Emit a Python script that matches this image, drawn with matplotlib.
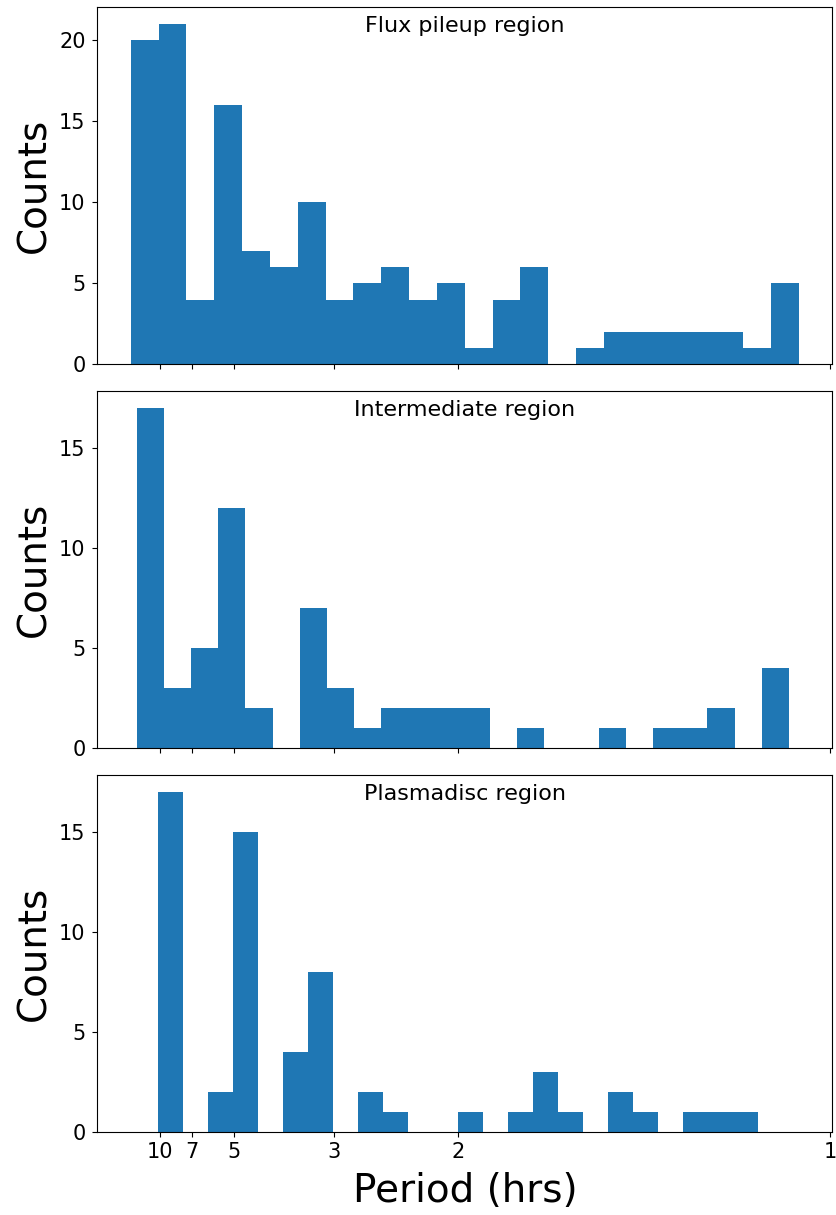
import numpy as np
import matplotlib
matplotlib.use("Agg")
import matplotlib.pyplot as plt
from matplotlib.ticker import MultipleLocator

# bin counts (24 bins per region, x is frequency = 1/period)
flux_pileup_counts = [20, 21, 4, 16, 7, 6, 10, 4, 5, 6, 4, 5,
                      1, 4, 6, 0, 1, 2, 2, 2, 2, 2, 1, 5]
intermediate_counts = [17, 3, 5, 12, 2, 0, 7, 3, 1, 2, 2, 2,
                       2, 0, 1, 0, 0, 1, 0, 1, 1, 2, 0, 4]
plasmadisc_counts = [17, 0, 2, 15, 0, 4, 8, 0, 2, 1, 0, 0,
                     1, 0, 1, 3, 1, 0, 2, 1, 0, 1, 1, 1]

# frequency range (1/hrs) spanned by the bins of each region
flux_pileup_range = (0.0611, 0.9577)
intermediate_range = (0.0691, 0.9443)
plasmadisc_range = (0.0973, 0.9027)

region_names = ["Flux pileup region", "Intermediate region", "Plasmadisc region"]
period_ticks = [10, 7, 5, 3, 2, 1]
n_bins = 24

all_counts = [flux_pileup_counts, intermediate_counts, plasmadisc_counts]
all_ranges = [flux_pileup_range, intermediate_range, plasmadisc_range]

fig, axes = plt.subplots(3, 1, sharex=True, figsize=(8.36, 12.15), dpi=100)

left, width, height = 0.1164, 0.8792, 0.2938
bottoms = [0.7002, 0.3841, 0.0681]

for ax, counts, rng, name, b in zip(axes, all_counts, all_ranges, region_names, bottoms):
    ax.set_position([left, b, width, height])
    edges = np.linspace(rng[0], rng[1], n_bins + 1)
    ax.hist(edges[:-1], bins=edges, weights=counts, color="#1f77b4")
    ax.text(0.5, 0.932, name, transform=ax.transAxes, ha="center",
            va="baseline", fontsize=16)
    ax.set_ylabel("Counts", fontsize=28)
    ax.yaxis.set_major_locator(MultipleLocator(5))
    ax.tick_params(labelsize=15)
    ax.tick_params(axis="y", pad=5)

freqs = 1.0 / np.array(period_ticks, dtype=float)
axes[-1].set_xticks(freqs)
axes[-1].set_xticklabels([str(p) for p in period_ticks])
axes[-1].set_xlabel("Period (hrs)", fontsize=28, labelpad=7)

fig.savefig("out.png", dpi=100)
